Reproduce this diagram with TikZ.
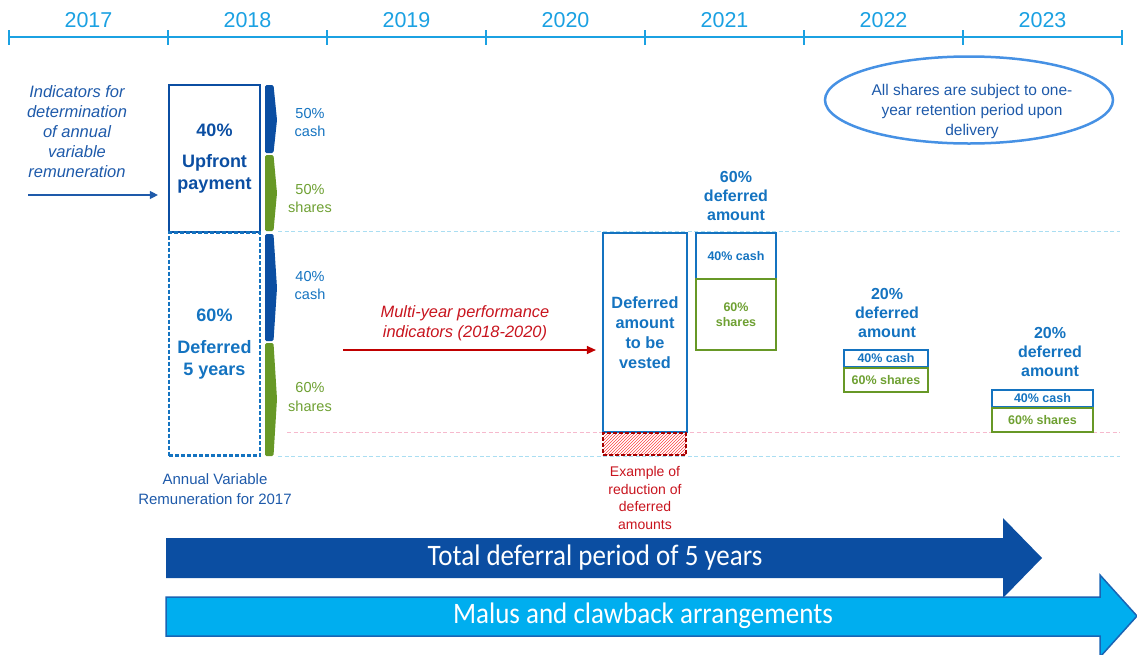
\documentclass[tikz,border=0pt]{standalone}
\usepackage{fontspec}
\setmainfont{Liberation Sans}
\newfontfamily\calib{Carlito}
\usetikzlibrary{patterns,shapes.geometric,arrows.meta}
\newcommand\fs[2]{\fontsize{#1}{#2}\selectfont}
\definecolor{tl}{RGB}{27,161,226}
\definecolor{dblue}{RGB}{11,78,162}
\definecolor{mblue}{RGB}{20,115,192}
\definecolor{tblue}{RGB}{30,90,170}
\definecolor{grn}{RGB}{103,152,38}
\definecolor{tgrn}{RGB}{110,160,50}
\definecolor{dred}{RGB}{192,0,0}
\definecolor{tred}{RGB}{200,20,30}
\definecolor{lcyan}{RGB}{170,222,242}
\definecolor{lpink}{RGB}{246,185,205}
\definecolor{lbarrow}{RGB}{0,174,239}
\definecolor{lbborder}{RGB}{25,100,180}
\definecolor{ellb}{RGB}{70,145,228}
\tikzset{
  year/.style={font=\fs{21.5}{25}, text=tl},
  bigbox/.style={draw, line width=2.2, minimum width=91, inner sep=0},
  cashlbl/.style={font=\fs{14.5}{18}, align=center, text=mblue},
  sharelbl/.style={font=\fs{14.5}{18}, align=center, text=tgrn},
  defl/.style={font=\bfseries\fs{16}{19}, align=center, text=mblue},
  cashbox/.style={draw=mblue, line width=2, inner sep=0, font=\bfseries\fs{12.5}{15}, text=mblue, align=center},
  sharebox/.style={draw=grn, line width=2, inner sep=0, font=\bfseries\fs{12.5}{15}, text=tgrn, align=center},
  hline/.style={dash pattern=on 4pt off 2.5pt, line width=1},
  chevron/.style={rounded corners=1.5},
  arrtext/.style={text=white, font=\calib\fs{27}{30}, yscale=1.1},
}
\begin{document}
\begin{tikzpicture}[x=1pt,y=-1pt]
\useasboundingbox (0,0) rectangle (1137,654);
% timeline
\draw[tl, line width=1.3] (9,37) -- (1122,37);
\foreach \x in {9,168,327,486,645,804,963,1122} \draw[tl, line width=1.3] (\x,30) -- (\x,45);
\foreach \y [count=\i from 0] in {2017,...,2023}
  \node[year] (y\y) at (88.5+159*\i,20) {\y};
% helper dashed lines
\draw[lcyan, hline] (278,231) -- (1120,231);
\draw[lcyan, hline] (278,456) -- (1120,456);
\draw[lpink, hline] (287,432) -- (1120,432);
% left indicators
\node[font=\itshape\fs{16.5}{20}, align=center, text=tblue] (ind) at (77,132)
  {Indicators for\\determination\\of annual\\variable\\remuneration};
\coordinate (indstart) at (28,195);
% boxes 2018
\node[bigbox, draw=dblue, minimum height=147, font=\bfseries\fs{18}{22}, text=dblue, align=center] (up) at (214.5,158.5)
  {40\%\\[9pt]Upfront\\payment};
\node[bigbox, draw=mblue, dash pattern=on 4pt off 2pt, minimum height=223, font=\bfseries\fs{18}{22}, text=mblue, align=center] (def) at (214.5,344)
  {60\%\\[10pt]Deferred\\5 years};
\draw[tblue, line width=1.3, -{Triangle[length=8,width=8]}, shorten >=10pt] (indstart) -- (up.west |- indstart);
% chevrons
\fill[dblue, chevron] (265,85) -- (273.5,85) -- (277,120) -- (273.5,153) -- (265,153) -- cycle;
\fill[grn, chevron] (265,155) -- (273.5,155) -- (277,193) -- (273.5,231) -- (265,231) -- cycle;
\fill[dblue, chevron] (265,234) -- (273.5,234) -- (277,288) -- (273.5,341) -- (265,341) -- cycle;
\fill[grn, chevron] (265,343) -- (273.5,343) -- (277,399) -- (273.5,456) -- (265,456) -- cycle;
\node[cashlbl] (c50) at (310,123) {50\%\\cash};
\node[sharelbl] (s50) at (310,199) {50\%\\shares};
\node[cashlbl] (c40) at (310,286) {40\%\\cash};
\node[sharelbl] (s60) at (310,397) {60\%\\shares};
\node[font=\fs{15}{20}, align=center, text=tblue] (avr) at (215,489) {Annual Variable\\Remuneration for 2017};
% multi-year
\coordinate (mstart) at (343,350);
\node[font=\itshape\fs{16.4}{20}, align=center, text=tred] (multi) at (465,323) {Multi-year performance\\indicators (2018-2020)};
\node[draw=mblue, line width=2.2, minimum width=84, minimum height=199, inner sep=0, font=\bfseries\fs{16.3}{20}, text=mblue, align=center] (vest) at (645,332.5)
  {Deferred\\amount\\to be\\vested};
\draw[dred, line width=1.3, -{Triangle[length=9,width=8]}, shorten >=6pt] (mstart) -- (vest.west |- mstart);
\node[draw=dred!85!black, line width=2, dash pattern=on 4pt off 2pt, pattern=north east lines, pattern color=red!75, minimum width=83, minimum height=22, inner sep=0] (red) at (644.5,444) {};
\node[font=\fs{14}{17.5}, align=center, text=tred] (ex) at (645,498) {Example of\\reduction of\\deferred\\amounts};
% 2021
\node[defl] (d21) at (736,196) {60\%\\deferred\\amount};
\node[cashbox, minimum width=80, minimum height=46] (c21) at (736,256) {40\% cash};
\node[sharebox, minimum width=80, minimum height=71] (s21) at (736,314.5) {60\%\\shares};
% 2022
\node[defl] (d22) at (887,313) {20\%\\deferred\\amount};
\node[cashbox, minimum width=84, minimum height=17] (c22) at (886,358.5) {40\% cash};
\node[sharebox, minimum width=84, minimum height=24] (s22) at (886,380) {60\% shares};
% 2023
\node[defl] (d23) at (1050,352) {20\%\\deferred\\amount};
\node[cashbox, minimum width=101, minimum height=17] (c23) at (1042.5,398.5) {40\% cash};
\node[sharebox, minimum width=101, minimum height=24] (s23) at (1042.5,420) {60\% shares};
% ellipse
\node[ellipse, draw=ellb, line width=2.5, minimum width=288, minimum height=87] (ell) at (969,100) {};
\node[font=\fs{15.5}{20}, align=center, text=tblue] (elltxt) at (972,111) {All shares are subject to one-\\year retention period upon\\delivery};
% big arrows
\fill[dblue] (166,538) -- (1003,538) -- (1003,518) -- (1042,558) -- (1003,598) -- (1003,578) -- (166,578) -- cycle;
\node[arrtext] (tot) at (595,558) {Total deferral period of 5 years};
\filldraw[fill=lbarrow, draw=lbborder, line width=1.5] (166,597) -- (1100,597) -- (1100,575) -- (1137,616) -- (1100,657) -- (1100,636) -- (166,636) -- cycle;
\node[arrtext] (mal) at (643,616) {Malus and clawback arrangements};
\end{tikzpicture}
\end{document}
